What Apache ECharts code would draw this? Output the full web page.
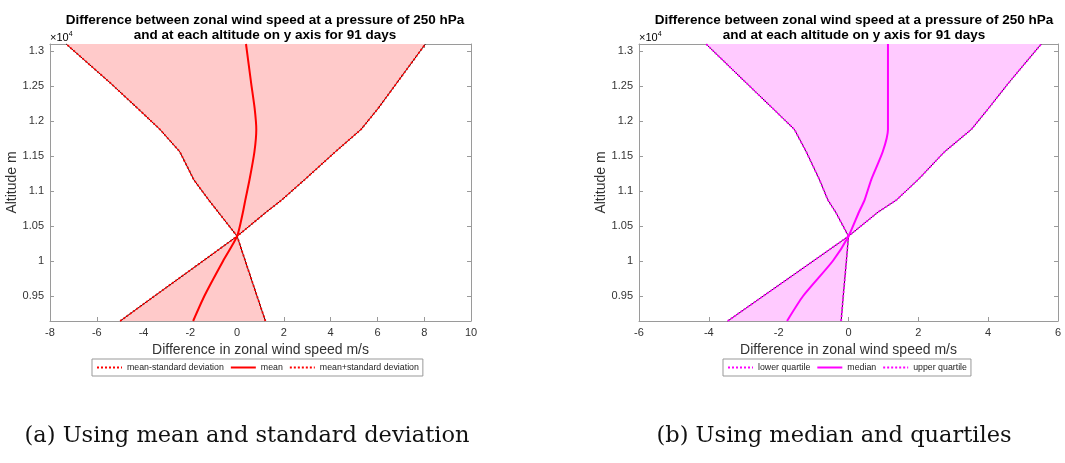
<!DOCTYPE html>
<html>
<head>
<meta charset="utf-8">
<script src="https://cdn.jsdelivr.net/npm/echarts@6/dist/echarts.min.js"></script>
<style>
  html, body { margin: 0; padding: 0; background: #fff; }
  #main { width: 1065px; height: 463px; }
</style>
</head>
<body>
<div id="main"></div>
<script>
// altitude levels (m) shared by both panels
var altitude = [9143, 9500, 10000, 10354, 10700, 10870, 11160, 11560, 11880, 12180, 12540, 13100];

// (a) mean and standard deviation, m/s
var meanMinusStd = [-5.0, -3.53, -1.46, 0, -0.81, -1.21, -1.85, -2.45, -3.3, -4.25, -5.41, -7.31];
var meanVals = [-1.88, -1.40, -0.6, 0, 0.25, 0.35, 0.53, 0.74, 0.82, 0.75, 0.6, 0.38];
var meanPlusStd = [1.21, 0.85, 0.35, 0, 1.25, 1.9, 2.88, 4.2, 5.3, 6.03, 6.82, 8.05];

// (b) median and quartiles, m/s
var lowerQuartile = [-3.46, -2.44, -1.01, 0, -0.37, -0.59, -0.83, -1.21, -1.55, -2.17, -2.92, -4.08];
var medianVals = [-1.76, -1.3, -0.45, 0, 0.3, 0.46, 0.65, 0.98, 1.13, 1.13, 1.13, 1.13];
var upperQuartile = [-0.21, -0.15, -0.06, 0, 0.85, 1.37, 1.99, 2.75, 3.52, 4.01, 4.58, 5.52];

var xRangeA = [-8, 10];
var xRangeB = [-6, 6];
var yRange = [9143, 13100];

var titleText = 'Difference between zonal wind speed at a pressure of 250 hPa\nand at each altitude on y axis for 91 days';
var xName = 'Difference in zonal wind speed m/s';
var yName = 'Altitude m';

var axisGray = '#9a9a9a';
var labelGray = '#333';
var font = 'Liberation Sans, Arial, Helvetica, sans-serif';

function pairs(xs) {
  return xs.map(function (v, i) { return [v, altitude[i]]; });
}

function bandSeries(gi, lo, hi, fill, edge) {
  return {
    type: 'custom',
    xAxisIndex: gi * 2,
    yAxisIndex: gi * 2,
    z: 1,
    silent: true,
    data: [[0, altitude[0]]],
    renderItem: function (params, api) {
      var loPts = lo.map(function (v, i) { return api.coord([v, altitude[i]]); });
      var hiPts = hi.map(function (v, i) { return api.coord([v, altitude[i]]); });
      var poly = loPts.concat(hiPts.slice().reverse());
      return {
        type: 'group',
        children: [
          { type: 'polygon', shape: { points: poly }, style: { fill: fill, stroke: null } },
          { type: 'polyline', shape: { points: loPts }, style: { fill: null, stroke: edge, lineWidth: 1 } },
          { type: 'polyline', shape: { points: hiPts }, style: { fill: null, stroke: edge, lineWidth: 1 } }
        ]
      };
    }
  };
}

function lineSeries(gi, name, xs, color, dotted) {
  return {
    name: name,
    type: 'line',
    xAxisIndex: gi * 2,
    yAxisIndex: gi * 2,
    z: 3,
    symbol: 'none',
    smooth: dotted ? false : 0.2,
    data: pairs(xs),
    lineStyle: dotted ? { color: color, width: 1.8, type: [2, 2] } : { color: color, width: 2 },
    itemStyle: { color: color }
  };
}

function xAxes(gi, range) {
  var base = {
    type: 'value',
    gridIndex: gi,
    min: range[0], max: range[1], interval: 2,
    splitLine: { show: false },
    axisLine: { show: true, onZero: false, lineStyle: { color: axisGray, width: 1 } },
    axisTick: { show: true, inside: true, length: 4, lineStyle: { color: axisGray } }
  };
  var bottom = Object.assign({}, base, {
    position: 'bottom',
    name: xName,
    nameLocation: 'middle',
    nameGap: 16,
    nameTextStyle: { fontFamily: font, fontSize: 14, color: labelGray },
    axisLabel: { fontFamily: font, fontSize: 11, color: labelGray, margin: 6 }
  });
  var top = Object.assign({}, base, {
    position: 'top',
    axisLabel: { show: false }
  });
  return [bottom, top];
}

function yAxes(gi) {
  var base = {
    type: 'value',
    gridIndex: gi,
    min: yRange[0], max: yRange[1],
    minInterval: 500, maxInterval: 500,
    splitLine: { show: false },
    axisLine: { show: true, onZero: false, lineStyle: { color: axisGray, width: 1 } },
    axisTick: { show: true, inside: true, length: 4, lineStyle: { color: axisGray } }
  };
  var left = Object.assign({}, base, {
    position: 'left',
    name: yName,
    nameLocation: 'middle',
    nameGap: 24,
    nameTextStyle: { fontFamily: font, fontSize: 14, color: labelGray },
    axisLabel: {
      fontFamily: font, fontSize: 11, color: labelGray, margin: 6,
      showMinLabel: false, showMaxLabel: false,
      formatter: function (v) { return String(+(v / 1e4).toFixed(2)); }
    }
  });
  var right = Object.assign({}, base, {
    position: 'right',
    axisLabel: { show: false }
  });
  return [left, right];
}

function legendFor(left, names) {
  return {
    left: left, top: 359,
    orient: 'horizontal',
    data: names,
    itemWidth: 25, itemHeight: 10, itemGap: 6,
    padding: [4, 4],
    borderColor: '#999', borderWidth: 1,
    itemStyle: { opacity: 0 },
    textStyle: { fontFamily: font, fontSize: 8.8, color: '#222' },
    selectedMode: false
  };
}

function exponentLabel(x) {
  return {
    type: 'text', left: x, top: 31,
    style: {
      text: '{a|×10}{b|4}',
      rich: {
        a: { fontFamily: font, fontSize: 11, color: labelGray },
        b: { fontFamily: font, fontSize: 7, color: labelGray, verticalAlign: 'top', padding: [0, 0, 6, 0] }
      }
    }
  };
}

var titleStyle = { fontFamily: font, fontSize: 13.5, fontWeight: 'bold', color: '#000', lineHeight: 15 };

var chart = echarts.init(document.getElementById('main'), null, { renderer: 'canvas' });

chart.setOption({
  animation: false,
  backgroundColor: '#fff',
  title: [
    { text: titleText, left: 260, top: 8, textAlign: 'center', textStyle: titleStyle },
    { text: titleText, left: 849, top: 8, textAlign: 'center', textStyle: titleStyle }
  ],
  grid: [
    { left: 50, right: 594, top: 44, bottom: 142 },
    { left: 639, right: 7, top: 44, bottom: 142 }
  ],
  xAxis: xAxes(0, xRangeA).concat(xAxes(1, xRangeB)),
  yAxis: yAxes(0).concat(yAxes(1)),
  legend: [
    legendFor(92, ['mean-standard deviation', 'mean', 'mean+standard deviation']),
    legendFor(723, ['lower quartile', 'median', 'upper quartile'])
  ],
  series: [
    bandSeries(0, meanMinusStd, meanPlusStd, '#ffcaca', '#3a0000'),
    lineSeries(0, 'mean-standard deviation', meanMinusStd, '#ff0000', true),
    lineSeries(0, 'mean', meanVals, '#ff0000', false),
    lineSeries(0, 'mean+standard deviation', meanPlusStd, '#ff0000', true),
    bandSeries(1, lowerQuartile, upperQuartile, '#ffcaff', '#3a003a'),
    lineSeries(1, 'lower quartile', lowerQuartile, '#ff00ff', true),
    lineSeries(1, 'median', medianVals, '#ff00ff', false),
    lineSeries(1, 'upper quartile', upperQuartile, '#ff00ff', true)
  ],
  graphic: [
    exponentLabel(50),
    exponentLabel(639),
    { type: 'text', x: 247, y: 436,
      style: { text: '(a) Using mean and standard deviation', fontFamily: 'DejaVu Serif, serif',
               fontSize: 22.5, fill: '#111', align: 'center', verticalAlign: 'middle' } },
    { type: 'text', x: 834, y: 436,
      style: { text: '(b) Using median and quartiles', fontFamily: 'DejaVu Serif, serif',
               fontSize: 22.5, fill: '#111', align: 'center', verticalAlign: 'middle' } }
  ]
});
window.addEventListener('resize', function () { chart.resize(); });
</script>
</body>
</html>
